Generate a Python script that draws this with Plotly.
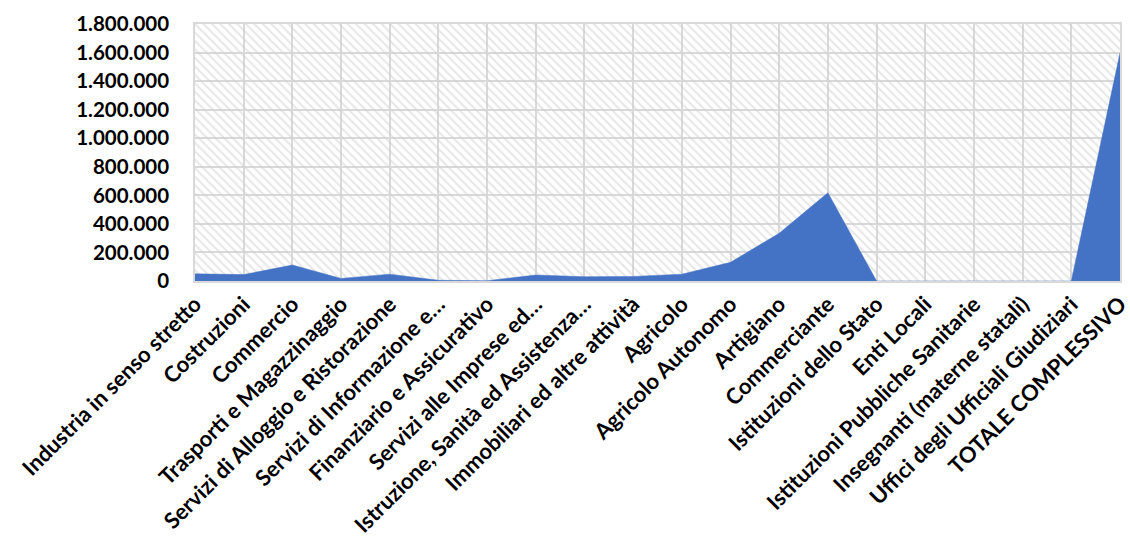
import plotly.graph_objects as go

categories = [
    "Industria in senso stretto",
    "Costruzioni",
    "Commercio",
    "Trasporti e Magazzinaggio",
    "Servizi di Alloggio e Ristorazione",
    "Servizi di Informazione e…",
    "Finanziario e Assicurativo",
    "Servizi alle Imprese ed…",
    "Istruzione, Sanità ed Assistenza…",
    "Immobiliari ed altre attività",
    "Agricolo",
    "Agricolo Autonomo",
    "Artigiano",
    "Commerciante",
    "Istituzioni dello Stato",
    "Enti Locali",
    "Istituzioni Pubbliche Sanitarie",
    "Insegnanti (materne statali)",
    "Uffici degli Ufficiali Giudiziari",
    "TOTALE COMPLESSIVO",
]
values = [
    50000, 45000, 112000, 18000, 48000, 5000, 2000, 42000, 30000, 32000,
    48000, 131000, 334000, 618000, 0, 0, 0, 0, 0, 1597000,
]
y_ticks = [0, 200000, 400000, 600000, 800000, 1000000, 1200000, 1400000, 1600000, 1800000]
y_max = 1800000

font_family = "Lato, 'Open Sans', sans-serif"
grid_color = "#d9d9d9"

fig = go.Figure()

# hatched plot-area background (decoration spanning the axis range)
fig.add_trace(go.Scatter(
    x=[categories[0], categories[-1], categories[-1], categories[0], categories[0]],
    y=[0, 0, y_max, y_max, 0],
    mode="lines",
    line=dict(width=0),
    fill="toself",
    fillcolor="rgba(0,0,0,0)",
    fillpattern=dict(shape="\\", fgcolor="#cfcfcf", bgcolor="rgba(0,0,0,0)",
                     size=6, solidity=0.35),
    hoverinfo="skip",
    showlegend=False,
))

fig.add_trace(go.Scatter(
    x=categories,
    y=values,
    mode="lines",
    line=dict(width=0.5, color="#4472C4"),
    fill="tozeroy",
    fillcolor="#4472C4",
    showlegend=False,
))

fig.update_layout(
    width=1130,
    height=538,
    margin=dict(l=195, r=10, t=24, b=257),
    paper_bgcolor="white",
    plot_bgcolor="white",
    separators=",.",
    font=dict(family=font_family, size=20, color="black"),
)

fig.update_xaxes(
    type="category",
    categoryorder="array",
    categoryarray=categories,
    range=[0, len(categories) - 1],
    automargin=False,
    showgrid=True,
    gridcolor=grid_color,
    gridwidth=1.5,
    showline=True,
    linecolor=grid_color,
    linewidth=1.5,
    mirror=True,
    tickangle=-45,
    ticks="",
    tickfont=dict(family=font_family, size=22, color="black", weight="bold"),
    zeroline=False,
)

fig.update_yaxes(
    range=[0, y_max],
    tickvals=y_ticks,
    tickformat=",d",
    automargin=False,
    showgrid=True,
    gridcolor=grid_color,
    gridwidth=1.5,
    showline=True,
    linecolor=grid_color,
    linewidth=1.5,
    mirror=True,
    ticks="",
    ticklabelstandoff=20,
    tickfont=dict(family=font_family, size=20.5, color="black", weight="bold"),
    zeroline=False,
)

fig.write_html(
    "out.html",
    config={"displayModeBar": False},
    post_script="document.body.style.margin='0';document.body.style.overflow='hidden';",
)
